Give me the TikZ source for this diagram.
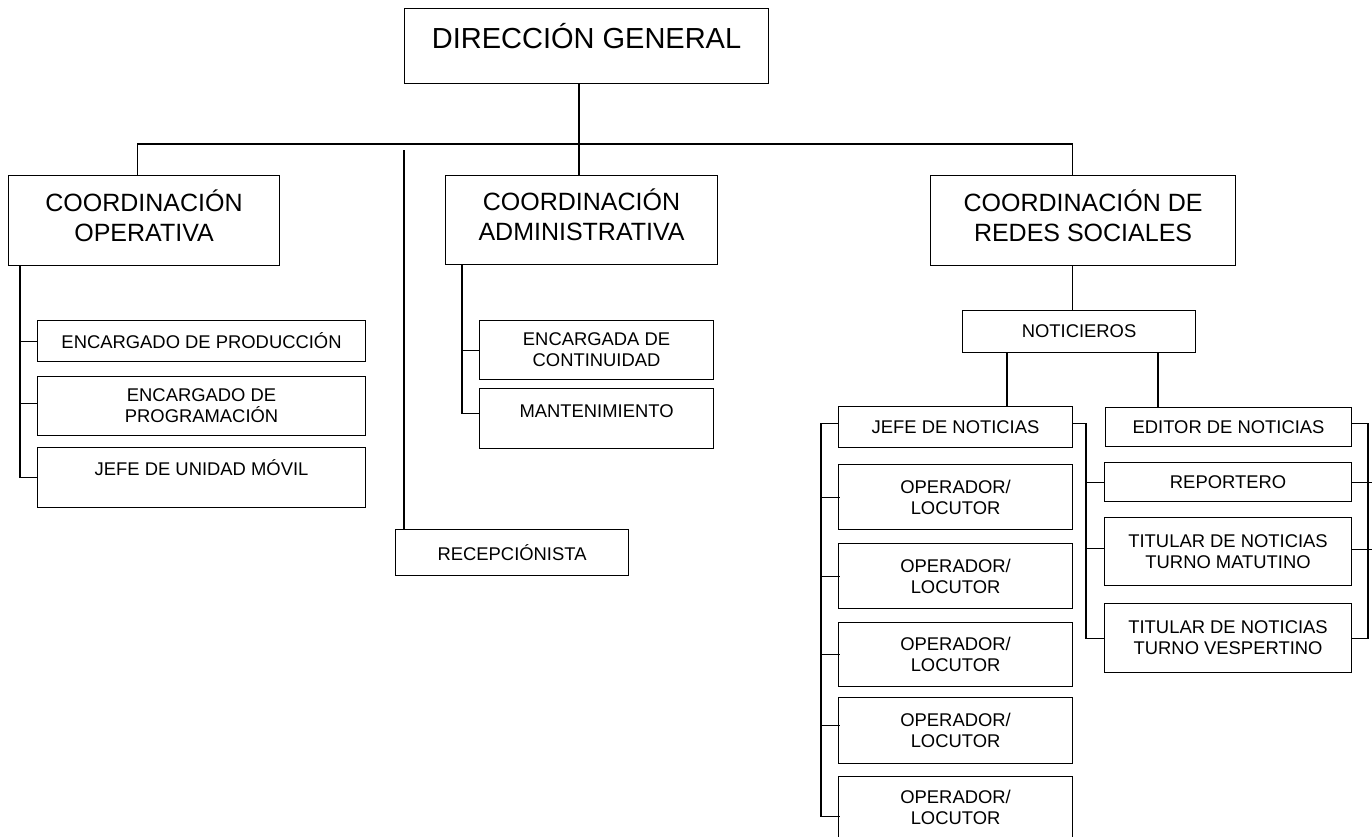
\documentclass[tikz,border=0pt]{standalone}
\usepackage{fontspec}
\setmainfont{Liberation Sans}
\usepackage{tikz}
\usetikzlibrary{positioning, calc}

\begin{document}
\begin{tikzpicture}[
        x=1pt, y=-1pt,
        box/.style={rectangle, draw, line width=1.1pt, align=center, inner sep=0pt, anchor=north west},
        small/.style={font=\fontsize{18.4}{21.2}\selectfont},
        big/.style={font=\fontsize{25}{30}\selectfont},
        topbox/.style={text height=14pt, text depth=#1},
        link/.style={line width=1.1pt}
    ]
        \useasboundingbox (0,0) rectangle (1372,836);

        % top level
        \node[box, font=\fontsize{29}{34}\selectfont, minimum width=364, minimum height=75, text height=22pt, text depth=18pt] (dir) at (404,8) {DIRECCIÓN GENERAL};

        \node[box, big, minimum width=271, minimum height=90, text depth=10pt] (oper) at (8,175) {COORDINACIÓN\\OPERATIVA};
        \node[box, big, minimum width=272, minimum height=89, text depth=10pt] (admin) at (445,175) {COORDINACIÓN\\ADMINISTRATIVA};
        \node[box, big, minimum width=305, minimum height=90, text depth=10pt] (redes) at (930,175) {COORDINACIÓN DE\\REDES SOCIALES};

        % operativa
        \node[box, small, minimum width=328, minimum height=41] (enprod) at (37,320) {ENCARGADO DE PRODUCCIÓN};
        \node[box, small, minimum width=328, minimum height=59] (enprog) at (37,376) {ENCARGADO DE\\PROGRAMACIÓN};
        \node[box, small, topbox=18.8pt, minimum width=328, minimum height=60] (movil) at (37,447) {JEFE DE UNIDAD MÓVIL};

        % administrativa
        \node[box, small, minimum width=234, minimum height=59] (contin) at (479,320) {ENCARGADA DE\\CONTINUIDAD};
        \node[box, small, topbox=16.8pt, minimum width=234, minimum height=60] (mant) at (479,388) {MANTENIMIENTO};

        \node[box, small, minimum width=233, minimum height=46] (recep) at (395,529) {RECEPCIÓNISTA};

        % redes sociales
        \node[box, small, minimum width=233, minimum height=42] (notic) at (962,310) {NOTICIEROS};
        \node[box, small, minimum width=234, minimum height=41] (jefenot) at (838,406) {JEFE DE NOTICIAS};
        \node[box, small, minimum width=234, minimum height=65] (loc1) at (838,464) {OPERADOR/\\LOCUTOR};
        \node[box, small, minimum width=234, minimum height=65] (loc2) at (838,543) {OPERADOR/\\LOCUTOR};
        \node[box, small, minimum width=234, minimum height=64] (loc3) at (838,622) {OPERADOR/\\LOCUTOR};
        \node[box, small, minimum width=234, minimum height=66] (loc4) at (838,697) {OPERADOR/\\LOCUTOR};
        \node[box, small, minimum width=234, minimum height=62] (loc5) at (838,776) {OPERADOR/\\LOCUTOR};

        \node[box, small, minimum width=246, minimum height=39] (editor) at (1105,407) {EDITOR DE NOTICIAS};
        \node[box, small, minimum width=247, minimum height=39] (report) at (1104,462) {REPORTERO};
        \node[box, small, minimum width=247, minimum height=68] (matut) at (1104,517) {TITULAR DE NOTICIAS\\TURNO MATUTINO};
        \node[box, small, minimum width=247, minimum height=69] (vesp) at (1104,603) {TITULAR DE NOTICIAS\\TURNO VESPERTINO};

        % line positions
        \coordinate (bus) at (579,144);
        \coordinate (vop) at (20,0);
        \coordinate (vad) at (462,0);
        \coordinate (vre) at (404,150);
        \coordinate (vjn) at (1007,0);
        \coordinate (ved) at (1158,0);
        \coordinate (lb) at (821,0);
        \coordinate (rb) at (1086,0);
        \coordinate (rr) at (1368,0);

        % connectors
        \draw[link] (dir.south -| bus) -- (bus);
        \draw[link] ([xshift=-6.5]oper.north) |- (bus) -| ([xshift=-10.5]redes.north);
        \draw[link] (bus) -- (admin.north -| bus);
        \draw[link] (vre) -- (recep.north -| vre);

        \draw[link] (oper.south -| vop) |- (movil.west);
        \draw[link] (enprod.west) -- (enprod.west -| vop);
        \draw[link] ([yshift=2.5]enprog.west) -- ([yshift=2.5]enprog.west -| vop);

        \draw[link] (admin.south -| vad) |- ([yshift=5]mant.west);
        \draw[link] (contin.west) -- (contin.west -| vad);

        \draw[link] ([xshift=-10.5]redes.south) -- ([xshift=-6.5]notic.north);
        \draw[link] (notic.south -| vjn) -- (jefenot.north -| vjn);
        \draw[link] (notic.south -| ved) -- (editor.north -| ved);

        \draw[link] ([yshift=3.5]jefenot.west) -| ([yshift=-9]loc5.west -| lb) -- ([xshift=2,yshift=-9]loc5.west);
        \foreach \n in {loc1,loc2,loc3}
            \draw[link] (\n.west -| lb) -- ([xshift=2]\n.west);
        \draw[link] ([yshift=5]loc4.west -| lb) -- ([xshift=2,yshift=5]loc4.west);

        \draw[link] ([yshift=3.5]jefenot.east) -| (vesp.west -| rb) -- (vesp.west);
        \draw[link] (report.west) -- (report.west -| rb);
        \draw[link] ([yshift=3]matut.west) -- ([yshift=3]matut.west -| rb);

        \draw[link] ([yshift=3.5]editor.east) -| (vesp.east -| rr) -- (vesp.east);
        \draw[link] (report.east) -- ++(21,0);
        \draw[link] ([yshift=2]matut.east) -- ++(21,0);
    \end{tikzpicture}
\end{document}
